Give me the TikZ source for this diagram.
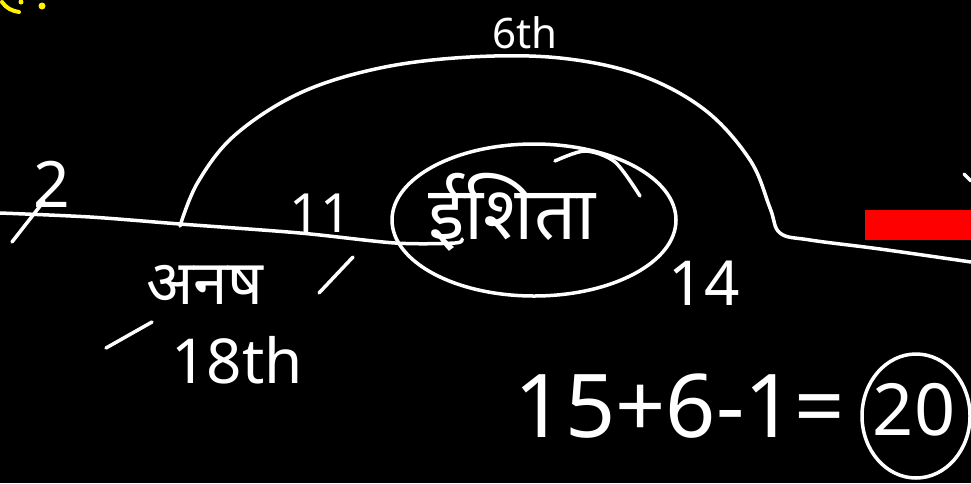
\documentclass[tikz,border=0pt]{standalone}
\usepackage{fontspec}
\setmainfont{Noto Sans}
\newfontfamily\devfont[Script=Devanagari]{Noto Sans}
\begin{document}
\begin{tikzpicture}[x=1pt,y=-1pt,
  pen/.style={draw=white,line width=3.5pt,line cap=round,line join=round},
  hw/.style={text=white,inner sep=0pt,font=\devfont}]
\fill[black] (0,0) rectangle (971,483);
\useasboundingbox (0,0) rectangle (971,483);
% yellow fragment at top left
\draw[yellow,line width=4pt,line cap=round] (2,2) .. controls (6,8) and (12,11) .. (19,12);
\fill[yellow] (21,2) circle (2.5);
\fill[yellow] (42,6) circle (3.5);
% main line (left)
\draw[pen] plot[smooth] coordinates {(0,213) (90,217) (180,224) (300,233) (395,243) (455,243) (462,239)};
% big arc and right line
\draw[pen] plot[smooth,tension=0.6] coordinates {(180,226) (198,182) (235,135) (300,93) (380,68) (470,57) (560,58) (640,75) (705,110) (750,160) (770,208) (780,233) (810,240) (880,249) (971,262)};
% ellipse around name
\draw[pen] (534,220) ellipse [x radius=142,y radius=76];
\draw[pen] plot[smooth] coordinates {(555,161) (585,151) (615,162) (640,196)};
% red bar
\fill[red] (865,210) rectangle (971,240);
\draw[pen] (964,174) -- (971,181);
% labels
\node[hw,font=\devfont\fontsize{64}{64}\selectfont] (two) at (52,184) {2};
\draw[pen] (44,201) -- (12,242);
\node[hw,font=\devfont\fontsize{54}{54}\selectfont] (eleven) at (320,213) {11};
\draw[pen] (353,257) -- (319,293);
\node[hw,font=\devfont\fontsize{62}{62}\selectfont] (anush) at (205,285) {अनष};
\draw[pen] (106,348) -- (152,322);
\node[hw,font=\devfont\fontsize{62}{62}\selectfont] (eighteen) at (237,360) {18th};
\node[hw,font=\devfont\fontsize{42}{42}\selectfont] (sixth) at (525,33) {6th};
\node[hw,font=\devfont\fontsize{74}{74}\selectfont] (name) at (512,212) {ईशिता};
\node[hw,font=\devfont\fontsize{62}{62}\selectfont] (fourteen) at (704,283) {14};
\node[hw,font=\devfont\fontsize{88}{88}\selectfont] (eq) at (680,406) {15+6-1=};
\node[hw,font=\devfont\fontsize{72}{72}\selectfont] (twenty) at (914,410) {20};
\draw[pen] (916,416) ellipse [x radius=54,y radius=62];
\end{tikzpicture}
\end{document}
